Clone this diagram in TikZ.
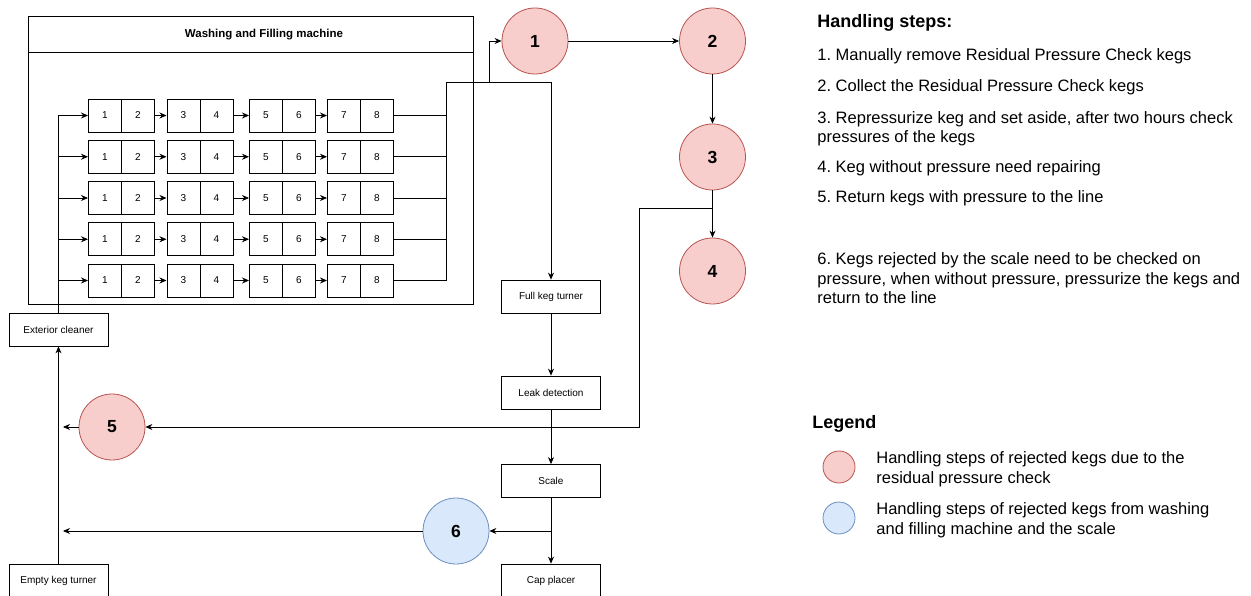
\documentclass[tikz,border=0pt]{standalone}
\usepackage{fontspec}
\setmainfont{Liberation Sans}
\usetikzlibrary{arrows.meta}
\definecolor{redfill}{HTML}{F8CECC}
\definecolor{redline}{HTML}{B85450}
\definecolor{bluefill}{HTML}{DAE8FC}
\definecolor{blueline}{HTML}{6C8EBF}
\frenchspacing
\begin{document}
\begin{tikzpicture}[x=1pt,y=-1pt,
  line width=0.8pt,
  arr/.style={-{Stealth[length=7pt,width=6pt]}},
  cell/.style={draw, minimum width=33pt, minimum height=33pt, inner sep=0pt, font=\fontsize{10}{12}\selectfont},
  proc/.style={draw, minimum width=99pt, minimum height=33pt, inner sep=0pt, font=\fontsize{10}{12}\selectfont},
  redstep/.style={circle, draw=redline, fill=redfill, minimum size=66pt, inner sep=0pt, font=\bfseries\fontsize{17.5}{20}\selectfont},
  bluestep/.style={circle, draw=blueline, fill=bluefill, minimum size=66pt, inner sep=0pt, font=\bfseries\fontsize{17.5}{20}\selectfont},
  legred/.style={circle, draw=redline, fill=redfill, minimum size=32pt, inner sep=0pt},
  legblue/.style={circle, draw=blueline, fill=bluefill, minimum size=32pt, inner sep=0pt},
  txt/.style={anchor=base west, inner sep=0pt, align=left, font=\fontsize{16.5}{19.8}\selectfont},
  head/.style={anchor=base west, inner sep=0pt, font=\bfseries\fontsize{18}{22}\selectfont},
  title/.style={inner sep=0pt, font=\bfseries\fontsize{11.5}{13}\selectfont}]
\useasboundingbox (0,0) rectangle (1251,596);

% container
\draw (28,16) rectangle (473,304);
\draw (28,52) -- (473,52);
\node[title] (wtitle) at (264,35) {Washing and Filling machine};

% cells
\foreach \r in {1,...,5} {
  \pgfmathsetmacro\yy{115.5+41.25*(\r-1)}
  \foreach \p/\xx in {1/88,2/166.5,3/249,4/327} {
    \pgfmathtruncatemacro\a{2*\p-1}
    \pgfmathtruncatemacro\b{2*\p}
    \node[cell, anchor=west] (r\r p\p a) at (\xx,\yy) {\a};
    \node[cell, anchor=west] (r\r p\p b) at (\xx+33,\yy) {\b};
  }
  \coordinate (T\r) at (58.5,\yy);
}
\coordinate (J) at (446,82);
\coordinate (B1) at (489,82);
\foreach \r in {1,...,5} {
  \draw[arr] (T\r) -- (r\r p1a.west);
  \draw[arr] (r\r p1b.east) -- (r\r p2a.west);
  \draw[arr] (r\r p2b.east) -- (r\r p3a.west);
  \draw[arr] (r\r p3b.east) -- (r\r p4a.west);
  \draw (r\r p4b.east) -| (J);
}

% process boxes
\node[proc] (ext) at (58.5,329.5) {Exterior cleaner};
\node[proc] (ekt) at (58.5,580.5) {Empty keg turner};
\node[proc] (fkt) at (551,296.5) {Full keg turner};
\node[proc] (ld) at (551,392.5) {Leak detection};
\node[proc] (sc) at (551,481) {Scale};
\node[proc] (cp) at (551,580.5) {Cap placer};

% step circles
\node[redstep] (c1) at (535,41) {1};
\node[redstep] (c2) at (712.5,41) {2};
\node[redstep] (c3) at (712.5,157) {3};
\node[redstep] (c4) at (712.5,271) {4};
\node[redstep] (c5) at (112,427) {5};
\node[bluestep] (c6) at (456,531) {6};

\coordinate (B3) at (712.5,208);
\coordinate (K) at (639,427);
\coordinate (B6) at (551,531);
\coordinate (E5) at (63,427);
\coordinate (E6) at (63,531);

% connectors
\draw (ext.north) -- (T1);
\draw[arr] (J) -| (fkt.north);
\draw[arr] (B1) |- (c1.west);
\draw[arr] (c1) -- (c2);
\draw[arr] (c2) -- (c3);
\draw[arr] (c3) -- (c4);
\draw[arr] (B3) -| (K) -- (c5.east);
\draw[arr] (c5.west) -- (E5);
\draw[arr] (fkt) -- (ld);
\draw[arr] (ld) -- (sc);
\draw[arr] (sc) -- (cp);
\draw[arr] (B6) -- (c6.east);
\draw[arr] (c6.west) -- (E6);
\draw[arr] (ekt) -- (ext);

% handling steps text
\node[head] (hs) at (817,27.5) {Handling steps:};
\node[txt] (s1) at (817,61) {1. Manually remove Residual Pressure Check kegs};
\node[txt] (s2) at (817,92) {2. Collect the Residual Pressure Check kegs};
\node[txt] (s3) at (817,143) {3. Repressurize keg and set aside, after two hours check\\pressures of the kegs};
\node[txt] (s4) at (817,173) {4. Keg without pressure need repairing};
\node[txt] (s5) at (817,203) {5. Return kegs with pressure to the line};
\node[txt] (s6) at (817,304) {6. Kegs rejected by the scale need to be checked on\\pressure, when without pressure, pressurize the kegs and\\return to the line};

% legend
\node[head] (lg) at (812,428) {Legend};
\node[legred] (lr) at (839,467) {};
\node[legblue] (lb) at (839,518) {};
\node[txt] (lt1) at (876,483) {Handling steps of rejected kegs due to the\\residual pressure check};
\node[txt] (lt2) at (876,534) {Handling steps of rejected kegs from washing\\and filling machine and the scale};
\end{tikzpicture}
\end{document}
